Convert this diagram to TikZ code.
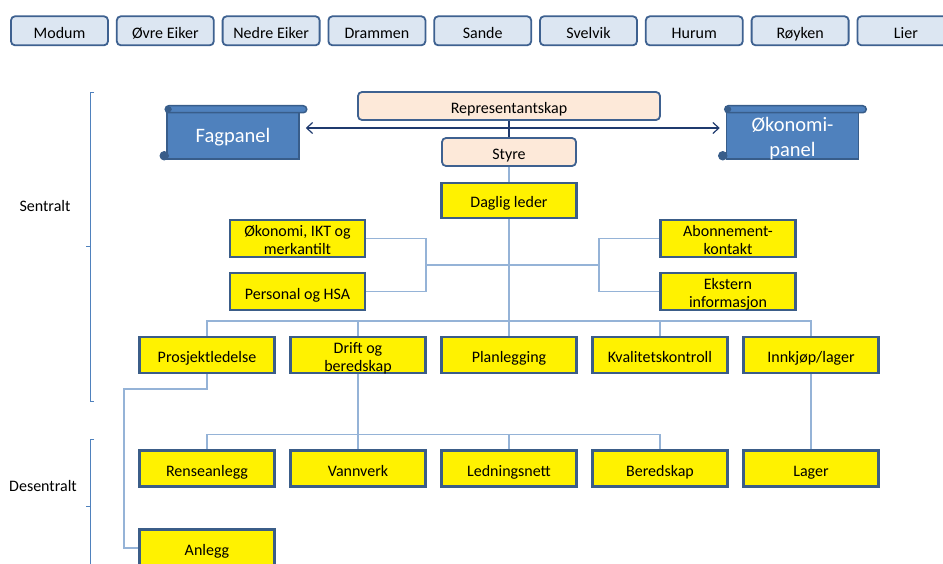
\documentclass[tikz,border=0pt]{standalone}
\usepackage{fontspec}
\setmainfont{Carlito}
\usetikzlibrary{arrows.meta,calc}

\definecolor{muniblue}{HTML}{DCE6F2}
\definecolor{boxedge}{HTML}{3E6190}
\definecolor{peach}{HTML}{FDE9D9}
\definecolor{unitedge}{HTML}{3B5D88}
\definecolor{connblue}{HTML}{95B3D7}
\definecolor{navy}{HTML}{1F3A6E}
\definecolor{panelblue}{HTML}{4F81BD}
\definecolor{paneledge}{HTML}{385D8A}
\definecolor{brackblue}{HTML}{4F81BD}

% fixed height for the first text line and fixed depth for the last one,
% so every label sits at the same place whatever its letters
\newcommand\boxtop{\rule{0pt}{19.5pt}}
\newcommand\boxbot{\rule[-4.5pt]{0pt}{4.5pt}}
\newcommand\paneltop{\rule{0pt}{23.2pt}}
\newcommand\panelbot{\rule[-5.4pt]{0pt}{5.4pt}}
% two-line label with the struts inside its lines
\newcommand\twolines[2]{\boxtop#1\\#2\boxbot}

\tikzset{
  txt/.style={font=\fontsize{16}{18}\selectfont, align=center, inner sep=0pt,
    execute at begin node=\boxtop, execute at end node=\boxbot},
  muni/.style={txt, draw=boxedge, fill=muniblue, line width=1.8pt, rounded corners=4pt,
    minimum width=97pt, minimum height=29pt},
  board/.style={txt, draw=boxedge, fill=peach, line width=1.8pt, rounded corners=4pt,
    minimum height=28pt},
  unit/.style={txt, draw=unitedge, fill=yellow, line width=2.6pt,
    minimum width=135pt, minimum height=36pt},
  % two-line labels are taller than the box; let them overlap its padding
  pair/.style={inner ysep=-3.5pt},
  panel/.style={font=\fontsize{20.5}{25}\selectfont, align=center, inner sep=0pt,
    execute at begin node=\paneltop, execute at end node=\panelbot,
    text=white, draw=paneledge, fill=panelblue, line width=1.5pt},
  conn/.style={draw=connblue, line width=1.3pt},
  mainline/.style={draw=navy, line width=1.2pt},
  brack/.style={draw=brackblue, line width=0.8pt},
  roll/.style={draw=paneledge, fill=panelblue, line width=1.5pt, rounded corners=3.5pt},
  curl/.style={draw=paneledge, fill=paneledge, line width=1pt},
}

\begin{document}
\begin{tikzpicture}[x=1pt, y=-1pt]
\useasboundingbox (0,0) rectangle (943,564);

% member municipalities
\foreach \name [count=\i from 0] in {Modum,Øvre Eiker,Nedre Eiker,Drammen,Sande,Svelvik,Hurum,Røyken,Lier}
  \node[muni] (m\i) at ({59.5+105.8*\i},30.8) {\name};

% governing bodies
\node[board, minimum width=302pt] (rep) at (509,106) {Representantskap};
\node[board, minimum width=134pt] (styre) at (509,152) {Styre};
\node[unit, minimum height=35pt] (dl) at (509,200.5) {Daglig leder};

% advisory panels (scroll shapes)
\node[panel, minimum width=132pt, minimum height=49pt] (fag) at (233,134.5) {};
\draw[roll] ($(fag.north west)+(-1,-3.5)$) rectangle ($(fag.north east)+(7,3.5)$);
\fill[paneledge] ($(fag.north west)+(2.5,0)$) circle (3pt);
\draw[curl] ($(fag.south west)+(-2,-4)$) circle (4.2pt);
\node[panel, draw=none, fill=none] (fagtext) at ([yshift=0.5pt]fag.center) {Fagpanel};

\node[panel, minimum width=132pt, minimum height=49pt] (okp) at (792.5,134.5) {};
\draw[roll] ($(okp.north west)+(-1,-3.5)$) rectangle ($(okp.north east)+(7,3.5)$);
\fill[paneledge] ($(okp.north west)+(2.5,0)$) circle (3pt);
\draw[curl] ($(okp.south west)+(-3,-4)$) circle (4.2pt);
\node[panel, draw=none, fill=none] (okptext) at ([yshift=-0.5pt]okp.center) {\paneltop Økonomi-\\panel\panelbot};

% staff functions
\node[unit, pair, minimum height=37pt] (oek)  at (297.5,238.5) {\twolines{Økonomi, IKT og}{merkantilt}};
\node[unit, minimum height=37pt] (pers) at (297.5,291.5) {Personal og HSA};
\node[unit, pair, minimum height=37pt] (abo)  at (728,238.5) {\twolines{Abonnement-}{kontakt}};
\node[unit, pair, minimum height=37pt] (eks)  at (728,291.5) {\twolines{Ekstern}{informasjon}};

% departments
\node[unit] (pro)  at (207,355) {Prosjektledelse};
\node[unit, pair] (drift) at (358,355) {\twolines{Drift og}{beredskap}};
\node[unit] (plan) at (509,355) {Planlegging};
\node[unit] (kval) at (660,355) {Kvalitetskontroll};
\node[unit] (ink)  at (811,355) {Innkjøp/lager};

% local units
\node[unit] (rens)  at (207,468.5) {Renseanlegg};
\node[unit] (vann)  at (358,468.5) {Vannverk};
\node[unit] (ledn)  at (509,468.5) {Ledningsnett};
\node[unit] (bered) at (660,468.5) {Beredskap};
\node[unit] (lager) at (811,468.5) {Lager};
\node[unit, minimum height=37pt] (anl) at (207,548) {Anlegg};

% level labels with braces
\node[txt] (sent) at (45,204) {Sentralt};
\node[txt] (desent) at (43,484) {Desentralt};
\draw[brack] (94,92) -- (90,92) -- (90,401) -- (94,401);
\draw[brack] (86,246) -- (90,246);
\draw[brack] (94,439) -- (90,439) -- (90,580);
\draw[brack] (86,506) -- (90,506);

% connectors
\coordinate (arr) at (509,128);
\draw[mainline] (rep.south) -- (styre.north);
\draw[mainline, -{Straight Barb[length=6pt,width=11pt,line width=1.2pt]}]
  (arr) -- ($(fag.east |- arr)+(6,0)$);
\draw[mainline, -{Straight Barb[length=6pt,width=11pt,line width=1.2pt]}]
  (arr) -- ($(okp.west |- arr)+(-6,0)$);

\draw[conn] (styre.south) -- (dl.north);
\draw[conn] (dl.south) -- (plan.north);

\coordinate (lj) at (426,265);
\coordinate (rj) at (599,265);
\draw[conn] (lj) -- (rj);
\draw[conn] (oek.east) -- (oek.east -| lj) -- (pers.east -| lj) -- (pers.east);
\draw[conn] (abo.west) -- (abo.west -| rj) -- (eks.west -| rj) -- (eks.west);

\coordinate (bus2) at (0,321);
\draw[conn] (pro.north) -- (pro.north |- bus2) -- (ink.north |- bus2) -- (ink.north);
\draw[conn] (drift.north) -- (drift.north |- bus2);
\draw[conn] (kval.north) -- (kval.north |- bus2);

\coordinate (bus3) at (0,434.5);
\draw[conn] (rens.north) -- (rens.north |- bus3) -- (bered.north |- bus3) -- (bered.north);
\draw[conn] (drift.south) -- (vann.north);
\draw[conn] (ledn.north) -- (ledn.north |- bus3);
\draw[conn] (ink.south) -- (lager.north);

\coordinate (anlj) at (124,389);
\draw[conn] (pro.south) -- (pro.south |- anlj) -- (anlj) -- (anlj |- anl.west) -- (anl.west);
\end{tikzpicture}
\end{document}
